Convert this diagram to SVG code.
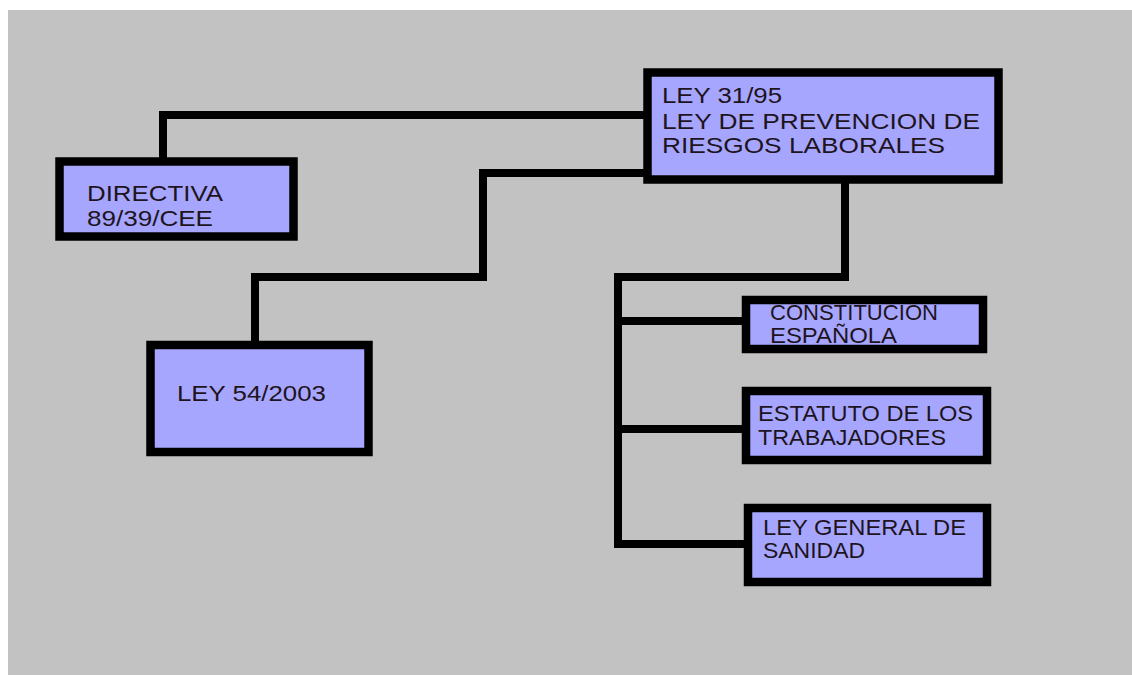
<svg xmlns="http://www.w3.org/2000/svg" width="1132" height="675" viewBox="0 0 1132 675">
<style>
.box{fill:#a6a6ff;stroke:#000;stroke-width:8.5}
.t{font-family:"Liberation Sans",Arial,sans-serif;font-size:22px;fill:#1e1420}
.c{fill:none;stroke:#000;stroke-width:8;stroke-linecap:square;stroke-linejoin:miter}
</style>
<rect x="0" y="0" width="1132" height="675" fill="#ffffff"/>
<rect x="8" y="10" width="1124" height="665" fill="#c2c2c2"/>
<g id="connectors">
<path class="c" d="M 645 115 H 163 V 157"/>
<path class="c" d="M 650 173 H 483 V 277 H 255 V 340"/>
<path class="c" d="M 845 185 V 277 H 618 V 544"/>
<path class="c" d="M 618 321 H 742"/>
<path class="c" d="M 618 429 H 742"/>
<path class="c" d="M 618 544 H 744"/>
</g>
<g id="ley3195">
<rect class="box" x="647.5" y="72.5" width="351" height="107"/>
<text class="t" x="662" y="103" textLength="120" lengthAdjust="spacingAndGlyphs">LEY 31/95</text>
<text class="t" x="662" y="129" textLength="318" lengthAdjust="spacingAndGlyphs">LEY DE PREVENCION DE</text>
<text class="t" x="662" y="153" textLength="283" lengthAdjust="spacingAndGlyphs">RIESGOS LABORALES</text>
</g>
<g id="directiva">
<rect class="box" x="59.5" y="161.5" width="234" height="75"/>
<text class="t" x="87" y="201" textLength="136" lengthAdjust="spacingAndGlyphs">DIRECTIVA</text>
<text class="t" x="87" y="226" textLength="126" lengthAdjust="spacingAndGlyphs">89/39/CEE</text>
</g>
<g id="ley542003">
<rect class="box" x="150.5" y="345" width="218" height="107"/>
<text class="t" x="177" y="401" textLength="149" lengthAdjust="spacingAndGlyphs">LEY 54/2003</text>
</g>
<g id="constitucion">
<rect class="box" x="746" y="300" width="237" height="49"/>
<text class="t" x="770" y="320" textLength="168" lengthAdjust="spacingAndGlyphs">CONSTITUCION</text>
<text class="t" x="770" y="343" textLength="127" lengthAdjust="spacingAndGlyphs">ESPAÑOLA</text>
</g>
<g id="estatuto">
<rect class="box" x="746" y="391" width="241" height="69"/>
<text class="t" x="758" y="421" textLength="215" lengthAdjust="spacingAndGlyphs">ESTATUTO DE LOS</text>
<text class="t" x="758" y="445" textLength="188" lengthAdjust="spacingAndGlyphs">TRABAJADORES</text>
</g>
<g id="leygeneral">
<rect class="box" x="748" y="508" width="239" height="74"/>
<text class="t" x="763" y="535" textLength="203" lengthAdjust="spacingAndGlyphs">LEY GENERAL DE</text>
<text class="t" x="763" y="558" textLength="102" lengthAdjust="spacingAndGlyphs">SANIDAD</text>
</g>
</svg>
